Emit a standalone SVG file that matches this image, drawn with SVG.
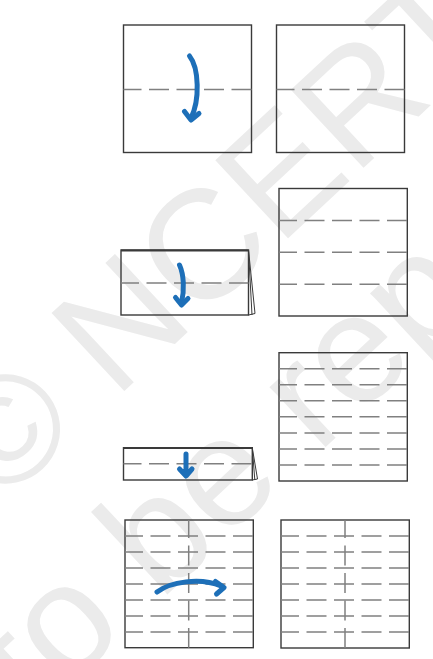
<svg xmlns="http://www.w3.org/2000/svg" width="433" height="659" viewBox="0 0 433 659">
<style>
.wm{font-family:"Liberation Sans",Arial,sans-serif;font-size:155px;fill:#ebebeb}
.box{fill:none;stroke:#3a3a3a;stroke-width:1.4}
.fold{fill:none;stroke:#808080;stroke-width:1.5;stroke-dasharray:20 7.5;stroke-dashoffset:2}
.thin{fill:none;stroke:#3a3a3a;stroke-width:1}
.arr{fill:none;stroke:#1d6fb8;stroke-width:5;stroke-linecap:round;stroke-linejoin:round}
</style>
<rect width="433" height="659" fill="#ffffff"/>
<g id="watermark">
<text class="wm" transform="translate(0,507) rotate(-43)">© NCERT</text>
<text class="wm" transform="translate(-155,895) rotate(-43)">not to be republished</text>
</g>
<g id="step1">
<rect class="box" x="123.5" y="25" width="128" height="127.5"/>
<line class="fold" x1="123.5" y1="89.5" x2="251.5" y2="89.5"/>
</g>
<g id="step1-result">
<rect class="box" x="276.5" y="25" width="128" height="127.5"/>
<line class="fold" x1="276.5" y1="89.5" x2="404.5" y2="89.5"/>
</g>
<g id="step2">
<rect class="box" x="121" y="250" width="127.5" height="65"/>
<line x1="121" y1="250.5" x2="248.5" y2="250.5" stroke="#3a3a3a" stroke-width="2"/>
<path class="thin" d="M248.5 250 L255 313.5 L248.5 315"/>
<path class="thin" d="M248.5 250 L252 315"/>
<line class="fold" x1="121" y1="283" x2="248.5" y2="283"/>
</g>
<g id="step2-result">
<rect class="box" x="279" y="188.5" width="128.3" height="127.5"/>
<line class="fold" x1="279" y1="220.4" x2="407.3" y2="220.4"/>
<line class="fold" x1="279" y1="252.3" x2="407.3" y2="252.3"/>
<line class="fold" x1="279" y1="284.2" x2="407.3" y2="284.2"/>
</g>
<g id="step3">
<rect class="box" x="123.5" y="447.7" width="128.8" height="32.3"/>
<line x1="123.5" y1="448" x2="252.3" y2="448" stroke="#3a3a3a" stroke-width="1.8"/>
<path class="thin" d="M252.3 448 L257.5 479 L252.3 480"/>
<path class="thin" d="M252.3 448 L254.8 480"/>
<line class="fold" x1="123.5" y1="463.8" x2="252.3" y2="463.8"/>
</g>
<g id="step3-result">
<rect class="box" x="279" y="352.7" width="128.3" height="128.3"/>
<line class="fold" x1="279" y1="368.7" x2="407.3" y2="368.7"/>
<line class="fold" x1="279" y1="384.7" x2="407.3" y2="384.7"/>
<line class="fold" x1="279" y1="400.8" x2="407.3" y2="400.8"/>
<line class="fold" x1="279" y1="416.8" x2="407.3" y2="416.8"/>
<line class="fold" x1="279" y1="432.9" x2="407.3" y2="432.9"/>
<line class="fold" x1="279" y1="448.9" x2="407.3" y2="448.9"/>
<line class="fold" x1="279" y1="465" x2="407.3" y2="465"/>
</g>
<g id="step4">
<rect class="box" x="125" y="520" width="128.3" height="127.7"/>
<line class="fold" x1="125" y1="536" x2="253.3" y2="536"/>
<line class="fold" x1="125" y1="552" x2="253.3" y2="552"/>
<line class="fold" x1="125" y1="568" x2="253.3" y2="568"/>
<line class="fold" x1="125" y1="584" x2="253.3" y2="584"/>
<line class="fold" x1="125" y1="600" x2="253.3" y2="600"/>
<line class="fold" x1="125" y1="616" x2="253.3" y2="616"/>
<line class="fold" x1="125" y1="632" x2="253.3" y2="632"/>
<line class="fold" x1="188.7" y1="520" x2="188.7" y2="647.7" stroke="#555"/>
</g>
<g id="step4-result">
<rect class="box" x="281" y="520" width="128.3" height="128"/>
<line class="fold" x1="281" y1="536" x2="409.3" y2="536"/>
<line class="fold" x1="281" y1="552" x2="409.3" y2="552"/>
<line class="fold" x1="281" y1="568" x2="409.3" y2="568"/>
<line class="fold" x1="281" y1="584" x2="409.3" y2="584"/>
<line class="fold" x1="281" y1="600" x2="409.3" y2="600"/>
<line class="fold" x1="281" y1="616" x2="409.3" y2="616"/>
<line class="fold" x1="281" y1="632" x2="409.3" y2="632"/>
<line class="fold" x1="345" y1="520" x2="345" y2="648" stroke="#555"/>
</g>
<g id="connectors">
<path class="arr" d="M189.5 56 C199 68 200 100 191 118"/>
<path class="arr" d="M184.5 111.5 L191 120 L199 113.5"/>
<path class="arr" d="M179.5 265 C184 275 184.5 290 181.5 303"/>
<path class="arr" d="M175.5 297.5 L181.5 305 L188 298.5"/>
<path class="arr" d="M186 454 L186 474"/>
<path class="arr" d="M179.5 469 L186 476 L192 469" style="fill:#1d6fb8"/>
<path class="arr" d="M157 592 C170 582 200 577 221 586"/>
<path class="arr" d="M215.5 581.5 L224 587.5 L216.5 594"/>
</g>
</svg>
